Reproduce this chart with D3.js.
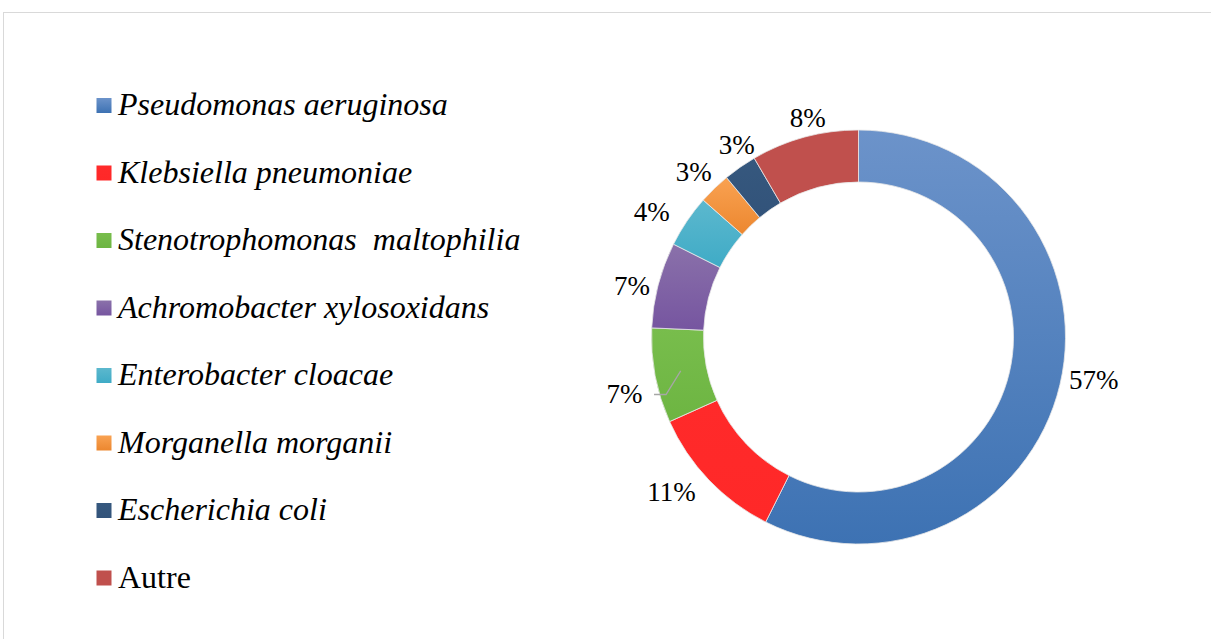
<!DOCTYPE html>
<html>
<head>
<meta charset="utf-8">
<script src="https://cdn.jsdelivr.net/npm/d3@7"></script>
<style>
  body { margin: 0; background: #fff; }
</style>
</head>
<body>
<div id="chart"></div>
<script>
// Data (share of isolates, %)
const species = ["Pseudomonas aeruginosa", "Klebsiella pneumoniae", "Stenotrophomonas  maltophilia",
  "Achromobacter xylosoxidans", "Enterobacter cloacae", "Morganella morganii", "Escherichia coli", "Autre"];
const shares = [57.4, 10.9, 7.4, 6.7, 4.1, 2.5, 2.6, 8.4];
const italic = [true, true, true, true, true, true, true, false];
const colorsTop = ["#6c93ca", "#ff2a2a", "#78bd4c", "#8a71aa", "#5cb8ce", "#f9a252", "#36587e", "#c0504d"];
const colorsBottom = ["#3d72b3", "#ff2828", "#6db542", "#7655a0", "#3fabc6", "#ec872f", "#32537a", "#c0504d"];

var width = 1211, height = 639;
var cx = 858.5, cy = 337, outerR = 207, innerR = 155;
var serif = "'Liberation Serif', 'Times New Roman', serif";

var svg = d3.select("#chart").append("svg")
  .attr("width", width)
  .attr("height", height);

// frame
svg.append("rect")
  .attr("x", 3.5).attr("y", 12.5)
  .attr("width", 1230).attr("height", 700)
  .attr("fill", "none").attr("stroke", "#d9d9d9");

// gradients per slice
var defs = svg.append("defs");
species.forEach((s, i) => {
  var g = defs.append("linearGradient")
    .attr("id", "grad" + i)
    .attr("x1", 0).attr("y1", 0).attr("x2", 0).attr("y2", 1);
  g.append("stop").attr("offset", "0%").attr("stop-color", colorsTop[i]);
  g.append("stop").attr("offset", "100%").attr("stop-color", colorsBottom[i]);
});

var data = species.map((s, i) => ({name: s, value: shares[i], i: i}));

var pie = d3.pie().sort(null).value(d => d.value);
var arc = d3.arc().innerRadius(innerR).outerRadius(outerR);
var arcs = pie(data);

var g = svg.append("g").attr("transform", "translate(" + cx + "," + cy + ")");

g.selectAll("path.slice")
  .data(arcs)
  .enter().append("path")
    .attr("class", "slice")
    .attr("d", arc)
    .attr("fill", d => "url(#grad" + d.data.i + ")")
    .attr("stroke", "#e8e8e8")
    .attr("stroke-width", 0.8);

// percentage labels placed just outside the ring, with small hand nudges like Excel's layout
var fontSize = 27;
var nudge = [[2, -12], [-15, -10], [-6, 14], [-1.5, 8], [-13.5, 5], [-3, 2], [10.5, -2], [8.5, 0]];
var leader = [false, false, true, false, false, false, false, false];

arcs.forEach(d => {
  var i = d.data.i;
  var label = Math.round(d.data.value) + "%";
  var mid = (d.startAngle + d.endAngle) / 2;
  var s = Math.sin(mid), c = -Math.cos(mid);
  var halfW = label.length === 3 ? 25 : 17.5, halfH = 10;
  var r = outerR + 6 + halfW * Math.abs(s) + halfH * Math.abs(c);
  var x = r * s + nudge[i][0], y = r * c + nudge[i][1];
  if (leader[i]) {
    var start = [(innerR + outerR) / 2 * s, (innerR + outerR) / 2 * c];
    var right = x + halfW;
    g.append("polyline")
      .attr("points", [start, [right + 24, y], [right + 12, y]].map(p => p.join(",")).join(" "))
      .attr("fill", "none")
      .attr("stroke", "#a6a6a6")
      .attr("stroke-width", 1.3);
  }
  g.append("text")
    .attr("x", x).attr("y", y)
    .attr("text-anchor", "middle")
    .attr("dominant-baseline", "central")
    .attr("font-family", serif)
    .attr("font-size", fontSize)
    .attr("fill", "#000")
    .text(label);
});

// legend
var legend = svg.append("g").attr("transform", "translate(96,0)");
var rowY = d3.scalePoint().domain(species).range([115, 587.5]);

species.forEach((s, i) => {
  var row = legend.append("g").attr("transform", "translate(0," + rowY(s) + ")");
  row.append("rect")
    .attr("x", 0.5).attr("y", -17)
    .attr("width", 15).attr("height", 15)
    .attr("fill", "url(#grad" + i + ")");
  row.append("text")
    .attr("x", 22).attr("y", 0)
    .attr("font-family", serif)
    .attr("font-size", 32)
    .attr("font-style", italic[i] ? "italic" : "normal")
    .style("white-space", "pre")
    .attr("fill", "#000")
    .text(s);
});
</script>
</body>
</html>
